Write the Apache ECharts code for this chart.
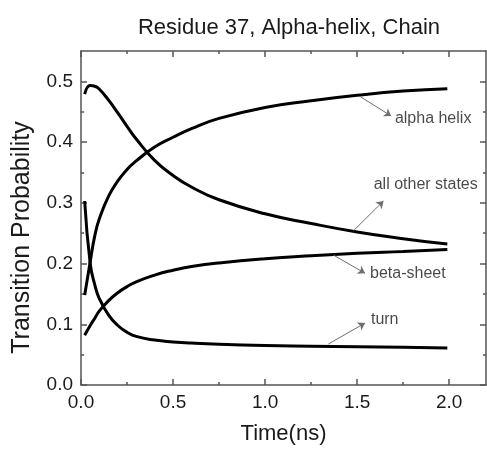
<!DOCTYPE html>
<html>
<head>
<meta charset="utf-8">
<script src="https://cdn.jsdelivr.net/npm/echarts@6/dist/echarts.min.js"></script>
<style>
  html, body { margin: 0; padding: 0; background: #ffffff; }
  #chart { width: 487px; height: 450px; }
</style>
</head>
<body>
<div id="chart"></div>
<script>
// Sampling times (ns) shared by every state curve
const timeNs = [0.02, 0.05, 0.075, 0.1, 0.15, 0.2, 0.25, 0.3, 0.4, 0.5, 0.6, 0.75, 1.0, 1.25, 1.5, 1.75, 1.99];

// Transition probability of each conformational state
const alphaHelix  = [0.148, 0.203, 0.246, 0.274, 0.311, 0.336, 0.355, 0.369, 0.392, 0.408, 0.422, 0.439, 0.457, 0.468, 0.477, 0.484, 0.488];
const otherStates = [0.479, 0.493, 0.492, 0.487, 0.469, 0.448, 0.426, 0.405, 0.370, 0.345, 0.326, 0.305, 0.282, 0.266, 0.252, 0.241, 0.232];
const betaSheet   = [0.082, 0.098, 0.110, 0.122, 0.139, 0.152, 0.162, 0.170, 0.181, 0.189, 0.195, 0.201, 0.208, 0.213, 0.217, 0.220, 0.223];
const turn        = [0.303, 0.200, 0.165, 0.142, 0.115, 0.098, 0.087, 0.080, 0.074, 0.071, 0.069, 0.067, 0.065, 0.064, 0.063, 0.062, 0.061];

// Axis ticks
const xMajorTicks = [0, 0.5, 1.0, 1.5, 2.0];
const xMinorTicks = [0.25, 0.75, 1.25, 1.75];
const yMajorTicks = [0, 0.1, 0.2, 0.3, 0.4, 0.5];
const yMinorTicks = [0.05, 0.15, 0.25, 0.35, 0.45];

// Curve labels: text, arrow tail on the curve, arrow head, text anchor (data units)
const curveNotes = [
  { text: 'alpha helix',      tail: [1.516, 0.475], head: [1.685, 0.443], at: [1.705, 0.438] },
  { text: 'all other states', tail: [1.480, 0.254], head: [1.643, 0.303], at: [1.590, 0.330] },
  { text: 'beta-sheet',       tail: [1.371, 0.214], head: [1.543, 0.184], at: [1.570, 0.184] },
  { text: 'turn',             tail: [1.344, 0.0675], head: [1.543, 0.102], at: [1.575, 0.108] }
];

const FONT = 'Liberation Sans, Arial, sans-serif';
const AXIS_COLOR = '#555555';
const TEXT_COLOR = '#1a1a1a';

function pairs(values) {
  return timeNs.map((t, i) => [t, values[i]]);
}

function curve(name, values) {
  return {
    name: name,
    type: 'line',
    data: pairs(values),
    showSymbol: false,
    smooth: 0.5,
    lineStyle: { color: '#000000', width: 3 },
    z: 3
  };
}

function xAxisDef(position, ticks, len, withLine, withLabels) {
  const ax = {
    type: 'value', position: position, min: 0, max: 2.2,
    splitLine: { show: false },
    axisLine: { show: withLine, onZero: false, lineStyle: { color: AXIS_COLOR, width: 1.5 } },
    axisTick: { show: true, inside: true, length: len, customValues: ticks,
                lineStyle: { color: AXIS_COLOR, width: 1.5 } },
    axisLabel: { show: false }
  };
  if (withLabels) {
    ax.axisLabel = { show: true, customValues: ticks, margin: 8, fontFamily: FONT, fontSize: 19,
                     color: TEXT_COLOR, formatter: v => v.toFixed(1) };
    ax.name = 'Time(ns)';
    ax.nameLocation = 'middle';
    ax.nameGap = 38;
    ax.nameTextStyle = { fontFamily: FONT, fontSize: 22, color: TEXT_COLOR };
  }
  return ax;
}

function yAxisDef(position, ticks, len, withLine, withLabels) {
  const ax = {
    type: 'value', position: position, min: 0, max: 0.55,
    splitLine: { show: false },
    axisLine: { show: withLine, onZero: false, lineStyle: { color: AXIS_COLOR, width: 1.5 } },
    axisTick: { show: true, inside: true, length: len, customValues: ticks,
                lineStyle: { color: AXIS_COLOR, width: 1.5 } },
    axisLabel: { show: false }
  };
  if (withLabels) {
    ax.axisLabel = { show: true, customValues: ticks, margin: 8, fontFamily: FONT, fontSize: 19,
                     color: TEXT_COLOR, formatter: v => v.toFixed(1) };
    ax.name = 'Transition Probability';
    ax.nameLocation = 'middle';
    ax.nameGap = 46;
    ax.nameTextStyle = { fontFamily: FONT, fontSize: 25, color: TEXT_COLOR, padding: [0, 39, 0, 0] };
  }
  return ax;
}

const chart = echarts.init(document.getElementById('chart'), null, { renderer: 'canvas' });

chart.setOption({
  animation: false,
  backgroundColor: '#ffffff',
  title: {
    text: 'Residue 37, Alpha-helix, Chain',
    left: 284, top: 12, textAlign: 'center',
    textStyle: { fontFamily: FONT, fontSize: 22, fontWeight: 'normal', color: TEXT_COLOR }
  },
  grid: { left: 81, right: 1, top: 51, bottom: 64, containLabel: false },
  xAxis: [
    xAxisDef('bottom', xMajorTicks, 6, true, true),
    xAxisDef('bottom', xMinorTicks, 3, false, false),
    xAxisDef('top', xMajorTicks, 6, true, false),
    xAxisDef('top', xMinorTicks, 3, false, false)
  ],
  yAxis: [
    yAxisDef('left', yMajorTicks, 6, true, true),
    yAxisDef('left', yMinorTicks, 3, false, false),
    yAxisDef('right', yMajorTicks, 6, true, false),
    yAxisDef('right', yMinorTicks, 3, false, false)
  ],
  series: [
    curve('alpha helix', alphaHelix),
    curve('all other states', otherStates),
    curve('beta-sheet', betaSheet),
    curve('turn', turn),
    {
      name: 'labels',
      type: 'scatter',
      symbolSize: 0,
      silent: true,
      data: curveNotes.map(n => ({ name: n.text, value: n.at })),
      label: {
        show: true, position: 'right', distance: 0, formatter: '{b}',
        fontFamily: FONT, fontSize: 16, color: TEXT_COLOR
      },
      markLine: {
        silent: true,
        animation: false,
        symbol: ['none', 'arrow'],
        symbolSize: 7,
        label: { show: false },
        lineStyle: { color: '#6e6e6e', width: 1, type: 'solid' },
        emphasis: { disabled: true },
        data: curveNotes.map(n => [{ coord: n.tail }, { coord: n.head }])
      },
      z: 4
    }
  ]
});
</script>
</body>
</html>
